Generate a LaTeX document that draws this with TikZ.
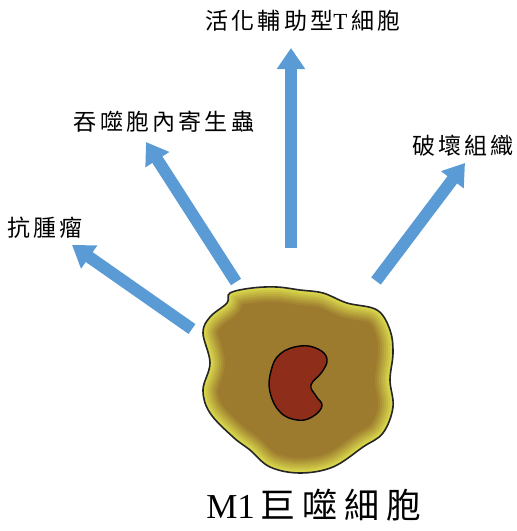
\documentclass[tikz,border=0pt]{standalone}
\usepackage{fontspec}
\setmainfont{Liberation Serif}
\newfontfamily\cjk[LetterSpace=14]{Noto Sans CJK TC}
\newfontfamily\cjktitle[LetterSpace=20]{Noto Sans CJK TC}
\usetikzlibrary{arrows.meta}
\definecolor{arrowblue}{HTML}{5B9BD5}
\definecolor{cellrim}{HTML}{D6D24A}
\definecolor{cellbody}{HTML}{9C7B2F}
\definecolor{nucleus}{HTML}{8E2E1A}
\tikzset{
  effect/.style={arrowblue, line width=12pt, -{Triangle[width=27pt,length=21pt]}},
  label/.style={font=\cjk\fontsize{23}{25}\selectfont, inner sep=0pt},
  title/.style={font=\fontsize{35}{37}\selectfont, inner sep=0pt}
}
\begin{document}
\begin{tikzpicture}[x=1pt,y=-1pt]
\useasboundingbox (0,0) rectangle (517,531);
% cell outline
\def\cellpath{plot[smooth cycle, tension=0.6] coordinates {
  (230,293) (252,288) (277,287) (300,290) (323,293) (347,303) (377,310) (390,330)
  (393,353) (390,380) (393,407) (383,433) (363,447) (333,467) (300,473)
  (270,467) (250,450) (233,437) (210,413) (203,390) (210,363) (203,333)
  (210,317) (227,303)}}
\fill[cellbody] \cellpath;
% soft yellow rim fading into the cytoplasm
\begin{scope}
  \clip \cellpath;
  \foreach \w/\p in {30/12, 26/25, 22/40, 18/55, 14/70, 10/85, 6/100}
    \draw[cellrim!\p!cellbody, line width=\w pt] \cellpath;
\end{scope}
\draw[black!85, line width=1.6pt] \cellpath;
% nucleus
\draw[black, line width=1.4pt, fill=nucleus] plot[smooth cycle, tension=0.7] coordinates {
  (300,346) (318,349) (327,359) (322,372) (311,385) (316,396) (322,406)
  (312,417) (297,420) (280,412) (270,392) (271,371) (280,354)};
% anchor points of the arrows
\coordinate (t1) at (192,329);
\coordinate (h1) at (72,245);
\coordinate (t2) at (236,282);
\coordinate (h2) at (146,142);
\coordinate (t3) at (291,248);
\coordinate (h3) at (291,48);
\coordinate (t4) at (376,281);
\coordinate (h4) at (465,163);
\draw[effect] (t1) -- (h1);
\draw[effect] (t2) -- (h2);
\draw[effect] (t3) -- (h3);
\draw[effect] (t4) -- (h4);
% labels
\node[label] (l1) at (45,228) {抗腫瘤};
\node[label] (l2) at (164,122) {吞噬胞內寄生蟲};
\node[label] (l3) at (303,21) {活化輔助型{\rmfamily T\,}細胞};
\node[label] (l4) at (463,146) {破壞組織};
\node[title] (cell) at (314,505) {M1\,{\cjktitle 巨噬細胞}};
\end{tikzpicture}
\end{document}
